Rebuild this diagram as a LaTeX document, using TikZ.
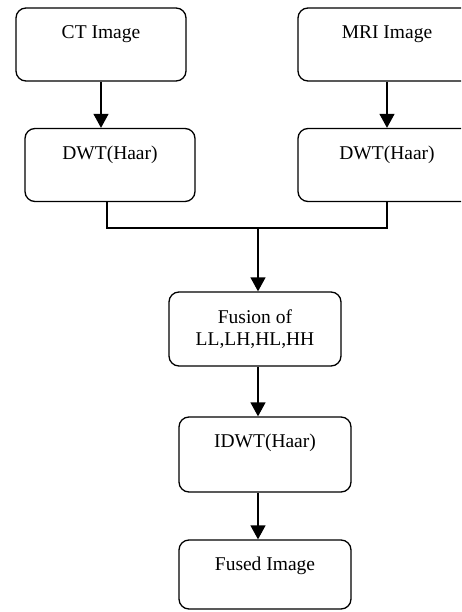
\documentclass[tikz,border=0pt]{standalone}
\usepackage{fontspec}
\setmainfont{Liberation Serif}
\usetikzlibrary{arrows.meta}
\begin{document}
\begin{tikzpicture}[x=1pt,y=-1pt,
  box/.style={draw, line width=1.3pt, rounded corners=10pt, inner sep=0pt},
  lbl/.style={font=\fontsize{19.5}{22}\selectfont, align=center, inner sep=0pt},
  conn/.style={line width=1.3pt},
  arr/.style={conn, -{Triangle[length=14pt,width=15pt]}}]
\useasboundingbox (0,0) rectangle (461,612);
\clip (0,0) rectangle (461,612);
% boxes
\node[box, minimum width=170pt, minimum height=73pt] (ct) at (101,44.5) {};
\node[box, minimum width=178pt, minimum height=73pt] (mri) at (387,44.5) {};
\node[box, minimum width=170pt, minimum height=73pt] (dwtl) at (110,165) {};
\node[box, minimum width=178pt, minimum height=73pt] (dwtr) at (387,165) {};
\node[box, minimum width=172pt, minimum height=74pt] (fus) at (255,329) {};
\node[box, minimum width=172pt, minimum height=75pt] (idwt) at (265,454.5) {};
\node[box, minimum width=172pt, minimum height=69pt] (fused) at (265,574.5) {};
% labels
\node[lbl] (tct) at (101,34) {CT Image};
\node[lbl] (tmri) at (387,34) {MRI Image};
\node[lbl] (tdl) at (110,155) {DWT(Haar)};
\node[lbl] (tdr) at (387,155) {DWT(Haar)};
\node[lbl] (tfus) at (255,329) {Fusion of\\LL,LH,HL,HH};
\node[lbl] (tidwt) at (265,443) {IDWT(Haar)};
\node[lbl] (tfused) at (265,566) {Fused Image};
% connectors
\coordinate (jl) at (107,228);
\coordinate (jr) at (387,228);
\coordinate (jm) at (258,228);
\draw[arr] (ct.south) -- (ct.south |- dwtl.north);
\draw[arr] (mri.south) -- (dwtr.north);
\draw[conn] (dwtl.south -| jl) -- (jl) -- (jr) -- (dwtr.south);
\draw[arr] (jm) -- (jm |- fus.north);
\draw[arr] (fus.south -| jm) -- (jm |- idwt.north);
\draw[arr] (idwt.south -| jm) -- (jm |- fused.north);
\end{tikzpicture}
\end{document}
